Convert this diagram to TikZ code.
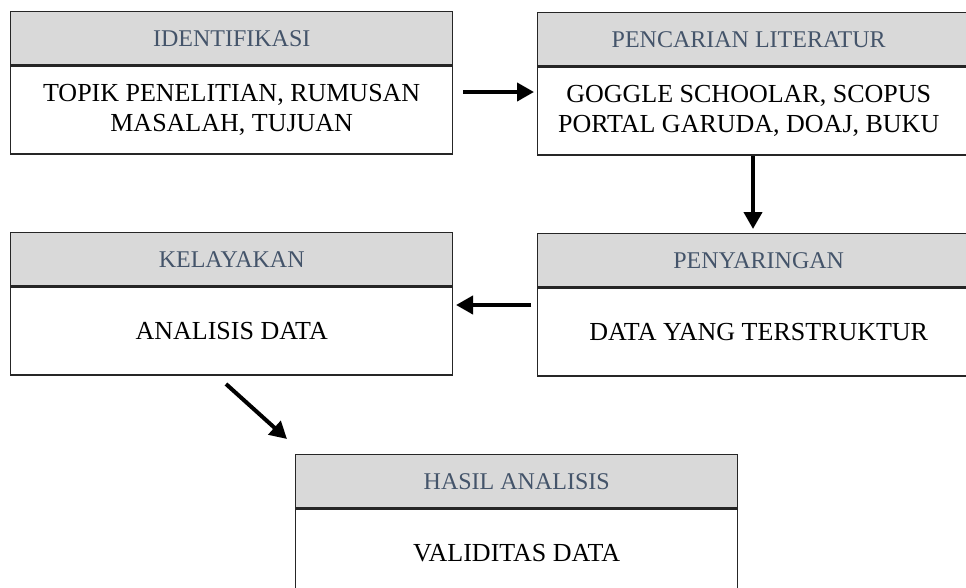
\documentclass[tikz,border=0pt]{standalone}
\usepackage{fontspec}
\setmainfont{Liberation Serif}
\usetikzlibrary{arrows.meta}
\definecolor{hdrtext}{HTML}{44546A}
\definecolor{hdrfill}{HTML}{D9D9D9}
\tikzset{
  hdr/.style={draw=black!85, line width=1.4pt, fill=hdrfill, minimum width=442pt, minimum height=53pt, inner sep=0pt, text=hdrtext, font=\fontsize{24}{28}\selectfont},
  bdy/.style={draw=black!85, line width=1.4pt, fill=white, minimum width=442pt, minimum height=88pt, inner sep=0pt, align=center, font=\fontsize{26}{30}\selectfont},
  flow/.style={line width=4pt, -{Triangle[length=17pt,width=18pt]}}
}
\begin{document}
\begin{tikzpicture}[x=1pt,y=-1pt]
\useasboundingbox (0,0) rectangle (966,587);
\clip (0,0) rectangle (966,587);
\fill[white] (0,0) rectangle (966,587);
% Box 1
\node[hdr, anchor=north west] (h1) at (10,11) {IDENTIFIKASI};
\node[bdy, anchor=north] (b1) at (h1.south) {TOPIK PENELITIAN, RUMUSAN\\MASALAH, TUJUAN};
% Box 2
\node[hdr, anchor=north west, label={[xshift=-10pt, text=hdrtext, font=\fontsize{24}{28}\selectfont]center:PENCARIAN LITERATUR}] (h2) at (537,12) {};
\node[bdy, anchor=north, label={[xshift=-10pt, align=center, font=\fontsize{26}{30}\selectfont]center:GOGGLE SCHOOLAR, SCOPUS\\PORTAL GARUDA, DOAJ, BUKU}] (b2) at (h2.south) {};
% Box 3
\node[hdr, anchor=north west] (h3) at (10,232) {KELAYAKAN};
\node[bdy, anchor=north] (b3) at (h3.south) {ANALISIS DATA};
% Box 4
\node[hdr, anchor=north west] (h4) at (537,233) {PENYARINGAN};
\node[bdy, anchor=north] (b4) at (h4.south) {DATA YANG TERSTRUKTUR};
% Box 5
\node[hdr, anchor=north west] (h5) at (295,454) {HASIL ANALISIS};
\node[bdy, anchor=north] (b5) at (h5.south) {VALIDITAS DATA};
% Arrows
\coordinate (a1s) at (463,92);
\coordinate (a1e) at (534,92);
\coordinate (a2s) at (753,156);
\coordinate (a2e) at (753,229);
\coordinate (a3s) at (531,305);
\coordinate (a3e) at (456,305);
\coordinate (a4s) at (226,384);
\coordinate (a4e) at (287,439);
\draw[flow] (a1s) -- (a1e);
\draw[flow] (a2s) -- (a2e);
\draw[flow] (a3s) -- (a3e);
\draw[flow] (a4s) -- (a4e);
\end{tikzpicture}
\end{document}
